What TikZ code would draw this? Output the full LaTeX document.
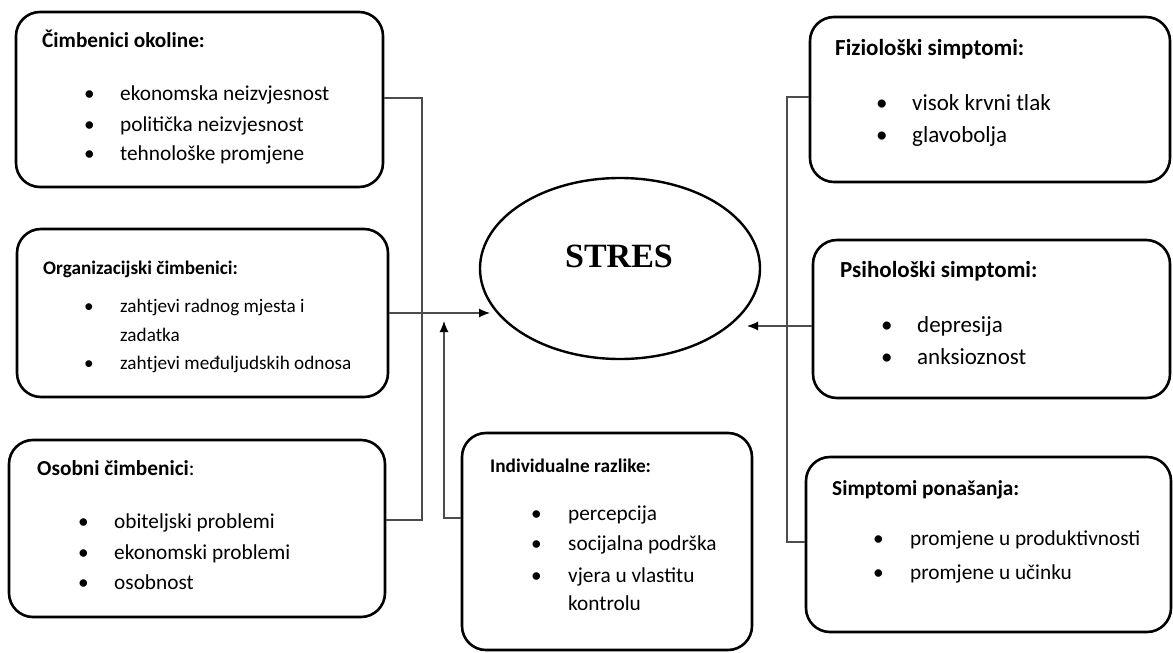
\documentclass[tikz,border=0pt]{standalone}
\usepackage{fontspec}
\setmainfont{Carlito}
\newfontfamily\stresfont{Liberation Serif}
\usetikzlibrary{arrows.meta,shapes.geometric}
\tikzset{
  box/.style={draw=black, line width=2.6pt, rounded corners=24pt, inner sep=0pt},
  txt/.style={anchor=west, inner sep=0pt, text height=0.75em, text depth=0.25em},
  conn/.style={draw=black!70, line width=1.2pt},
  arr/.style={conn, -{Latex[length=11pt,width=9pt,black]}},
}
\begin{document}
\begin{tikzpicture}[x=1pt,y=-1pt]
\useasboundingbox (0,0) rectangle (1173,653);
\fill[white] (0,0) rectangle (1173,653);

% central ellipse
\node[draw=black, line width=2.4pt, ellipse, minimum width=280pt, minimum height=181pt, inner sep=0pt] (stres) at (620,268.5) {};
\node[inner sep=0pt] (stresl) at (619,256) {\stresfont\fontsize{34pt}{40pt}\selectfont\bfseries STRES};

% left boxes
\node[box, minimum width=367pt, minimum height=175pt] (b1) at (199.5,99.5) {};
\node[txt, font=\fontsize{21.3pt}{25pt}\selectfont\bfseries] (b1t) at (42,45) {Čimbenici okoline:};
\node[txt, font=\fontsize{21.3pt}{25pt}\selectfont] (b1p1) at (84,98) {\textbullet};
\node[txt, font=\fontsize{21.3pt}{25pt}\selectfont] (b1a) at (120,98) {ekonomska neizvjesnost};
\node[txt, font=\fontsize{21.3pt}{25pt}\selectfont] (b1p2) at (84,129) {\textbullet};
\node[txt, font=\fontsize{21.3pt}{25pt}\selectfont] (b1b) at (120,129) {politička neizvjesnost};
\node[txt, font=\fontsize{21.3pt}{25pt}\selectfont] (b1p3) at (84,158) {\textbullet};
\node[txt, font=\fontsize{21.3pt}{25pt}\selectfont] (b1c) at (120,158) {tehnološke promjene};

\node[box, minimum width=371pt, minimum height=168pt] (b2) at (202.5,313) {};
\node[txt, font=\fontsize{19.2pt}{23pt}\selectfont\bfseries] (b2t) at (43,272) {Organizacijski čimbenici:};
\node[txt, font=\fontsize{19.2pt}{23pt}\selectfont] (b2p1) at (84,310) {\textbullet};
\node[txt, font=\fontsize{19.2pt}{23pt}\selectfont] (b2a) at (120,310) {zahtjevi radnog mjesta i};
\node[txt, font=\fontsize{19.2pt}{23pt}\selectfont] (b2a2) at (120,339) {zadatka};
\node[txt, font=\fontsize{19.2pt}{23pt}\selectfont] (b2p2) at (84,367) {\textbullet};
\node[txt, font=\fontsize{19.2pt}{23pt}\selectfont] (b2b) at (120,367) {zahtjevi međuljudskih odnosa};

\node[box, minimum width=376pt, minimum height=177pt] (b3) at (197,528.5) {};
\node[txt, font=\fontsize{21.3pt}{25pt}\selectfont] (b3t) at (37,473) {\textbf{Osobni čimbenici}:};
\node[txt, font=\fontsize{21.3pt}{25pt}\selectfont] (b3p1) at (78,526) {\textbullet};
\node[txt, font=\fontsize{21.3pt}{25pt}\selectfont] (b3a) at (114,526) {obiteljski problemi};
\node[txt, font=\fontsize{21.3pt}{25pt}\selectfont] (b3p2) at (78,557) {\textbullet};
\node[txt, font=\fontsize{21.3pt}{25pt}\selectfont] (b3b) at (114,557) {ekonomski problemi};
\node[txt, font=\fontsize{21.3pt}{25pt}\selectfont] (b3p3) at (78,587) {\textbullet};
\node[txt, font=\fontsize{21.3pt}{25pt}\selectfont] (b3c) at (114,587) {osobnost};

% bottom middle box
\node[box, minimum width=290pt, minimum height=217pt] (b4) at (607,541.5) {};
\node[txt, font=\fontsize{19.3pt}{23pt}\selectfont\bfseries] (b4t) at (490,470) {Individualne razlike:};
\node[txt, font=\fontsize{21.3pt}{25pt}\selectfont] (b4p1) at (531,518) {\textbullet};
\node[txt, font=\fontsize{21.3pt}{25pt}\selectfont] (b4a) at (568,518) {percepcija};
\node[txt, font=\fontsize{21.3pt}{25pt}\selectfont] (b4p2) at (531,548) {\textbullet};
\node[txt, font=\fontsize{21.3pt}{25pt}\selectfont] (b4b) at (568,548) {socijalna podrška};
\node[txt, font=\fontsize{21.3pt}{25pt}\selectfont] (b4p3) at (531,580) {\textbullet};
\node[txt, font=\fontsize{21.3pt}{25pt}\selectfont] (b4c) at (568,580) {vjera u vlastitu};
\node[txt, font=\fontsize{21.3pt}{25pt}\selectfont] (b4c2) at (568,608) {kontrolu};

% right boxes
\node[box, minimum width=360pt, minimum height=165pt] (r1) at (990,99.5) {};
\node[txt, font=\fontsize{23pt}{27pt}\selectfont\bfseries] (r1t) at (835,53) {Fiziološki simptomi:};
\node[txt, font=\fontsize{23pt}{27pt}\selectfont] (r1p1) at (876,108) {\textbullet};
\node[txt, font=\fontsize{23pt}{27pt}\selectfont] (r1a) at (912,108) {visok krvni tlak};
\node[txt, font=\fontsize{23pt}{27pt}\selectfont] (r1p2) at (876,140) {\textbullet};
\node[txt, font=\fontsize{23pt}{27pt}\selectfont] (r1b) at (912,140) {glavobolja};

\node[box, minimum width=357pt, minimum height=158pt] (r2) at (991.5,319) {};
\node[txt, font=\fontsize{23pt}{27pt}\selectfont\bfseries] (r2t) at (840,275) {Psihološki simptomi:};
\node[txt, font=\fontsize{23pt}{27pt}\selectfont] (r2p1) at (881,330) {\textbullet};
\node[txt, font=\fontsize{23pt}{27pt}\selectfont] (r2a) at (917,330) {depresija};
\node[txt, font=\fontsize{23pt}{27pt}\selectfont] (r2p2) at (881,362) {\textbullet};
\node[txt, font=\fontsize{23pt}{27pt}\selectfont] (r2b) at (917,362) {anksioznost};

\node[box, minimum width=365pt, minimum height=175pt] (r3) at (988.5,544.5) {};
\node[txt, font=\fontsize{21.3pt}{25pt}\selectfont\bfseries] (r3t) at (832,493) {Simptomi ponašanja:};
\node[txt, font=\fontsize{21.3pt}{25pt}\selectfont] (r3p1) at (873,543) {\textbullet};
\node[txt, font=\fontsize{21.3pt}{25pt}\selectfont] (r3a) at (910,543) {promjene u produktivnosti};
\node[txt, font=\fontsize{21.3pt}{25pt}\selectfont] (r3p2) at (873,577) {\textbullet};
\node[txt, font=\fontsize{21.3pt}{25pt}\selectfont] (r3b) at (910,577) {promjene u učinku};

% junction coordinates
\coordinate (jl1) at (422,98);
\coordinate (jl2) at (422,520);
\coordinate (a1) at (490,313);
\coordinate (jb) at (444,518);
\coordinate (a2) at (444,321);
\coordinate (jr1) at (787,97);
\coordinate (jr2) at (787,542);
\coordinate (a3) at (747,326);

% connectors
\draw[conn] (b1.east |- jl1) -- (jl1) -- (jl2) -- (b3.east |- jl2);
\draw[arr] (b2.east |- a1) -- (a1);
\draw[arr] (b4.west |- jb) -- (jb) -- (a2);
\draw[conn] (r1.west |- jr1) -- (jr1) -- (jr2) -- (r3.west |- jr2);
\draw[arr] (r2.west |- a3) -- (a3);
\end{tikzpicture}
\end{document}
